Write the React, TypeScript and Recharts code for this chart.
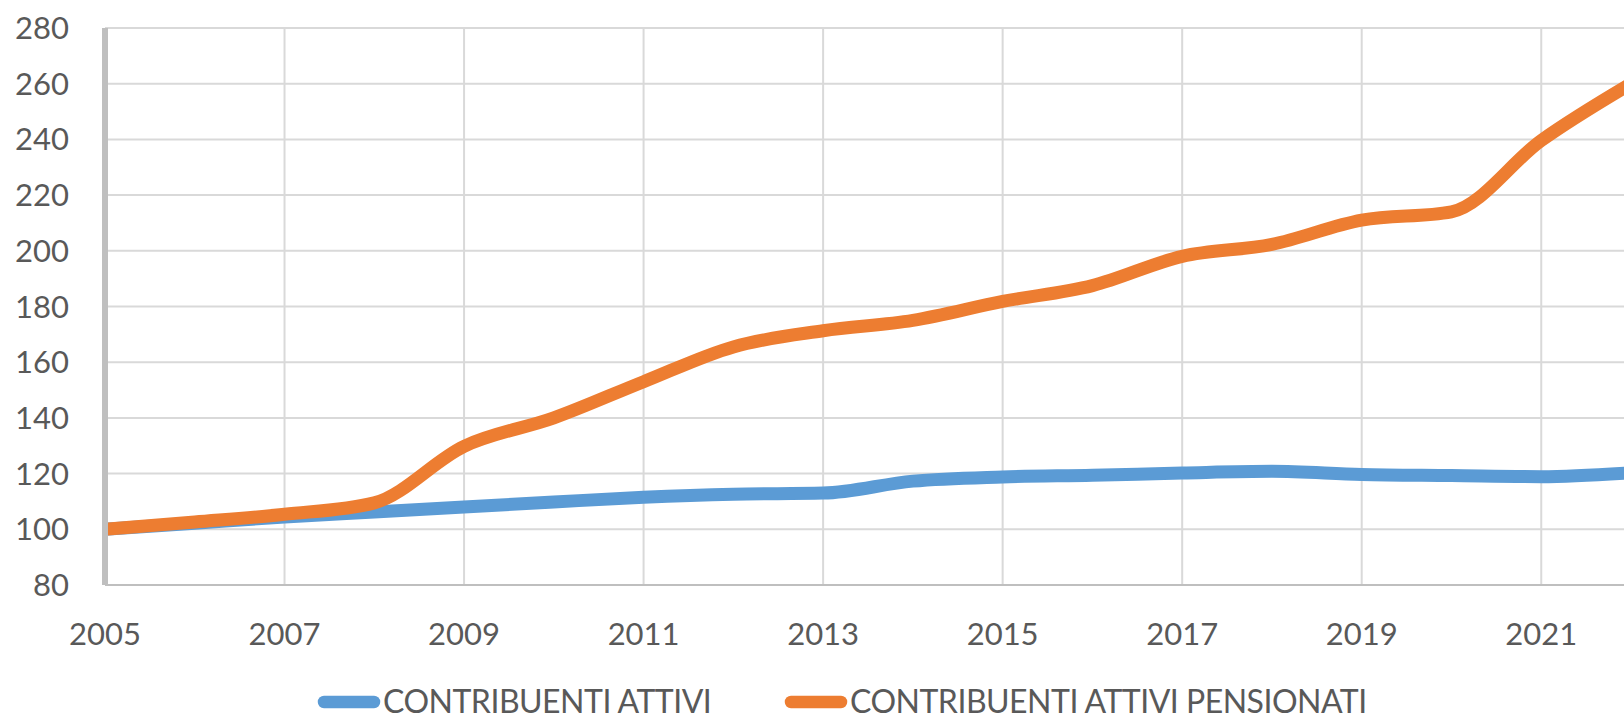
import { LineChart, Line, XAxis, YAxis, CartesianGrid } from 'recharts';

// Anni e valori indicizzati (2005 = 100)
const years = [2005, 2006, 2007, 2008, 2009, 2010, 2011, 2012, 2013, 2014, 2015, 2016, 2017, 2018, 2019, 2020, 2021, 2022];
const contribuentiAttivi = [100, 102.2, 104.4, 106.2, 108, 109.8, 111.5, 112.6, 113, 117.3, 118.8, 119.4, 120.2, 120.8, 119.7, 119.3, 118.9, 120.3];
const contribuentiPensionati = [100, 102.6, 105.4, 109.5, 129.8, 140, 153, 165.5, 171.3, 175, 181.8, 187.5, 198, 202.3, 211, 214, 239.6, 260];

const xTicks = [2005, 2007, 2009, 2011, 2013, 2015, 2017, 2019, 2021];
const yTicks = [80, 100, 120, 140, 160, 180, 200, 220, 240, 260, 280];

const seriesNames = ['CONTRIBUENTI ATTIVI', 'CONTRIBUENTI ATTIVI PENSIONATI'];
const seriesColors = ['#5B9BD5', '#ED7D31'];

const FONT = 'Lato, "Open Sans", sans-serif';
const TEXT_COLOR = '#595959';

function App() {
  const data = years.map((year, i) => ({
    year,
    attivi: contribuentiAttivi[i],
    pensionati: contribuentiPensionati[i],
  }));

  const tickStyle = { fontSize: 31, fill: TEXT_COLOR, fontFamily: FONT };

  // posizioni della legenda (inizio icona)
  const legendItems = [
    { name: seriesNames[0], color: seriesColors[0], x: 318 },
    { name: seriesNames[1], color: seriesColors[1], x: 785 },
  ];

  return (
    <div
      style={{
        position: 'absolute',
        left: 0,
        top: 0,
        width: 1624,
        height: 715,
        overflow: 'hidden',
        background: '#fff',
      }}
    >
      <LineChart
        width={1660}
        height={715}
        data={data}
        margin={{ top: 28, right: 29, bottom: 0, left: 0 }}
      >
        <CartesianGrid stroke="#D9D9D9" strokeWidth={2} />
        <XAxis
          dataKey="year"
          type="number"
          domain={[2005, 2022]}
          ticks={xTicks}
          height={130}
          tick={tickStyle}
          tickLine={false}
          tickSize={0}
          tickMargin={38}
          axisLine={{ stroke: '#BFBFBF', strokeWidth: 2 }}
          allowDecimals={false}
        />
        <YAxis
          type="number"
          domain={[80, 280]}
          ticks={yTicks}
          width={105}
          tick={tickStyle}
          tickLine={false}
          tickSize={0}
          tickMargin={36}
          axisLine={{ stroke: '#BFBFBF', strokeWidth: 6 }}
        />
        <Line
          type="monotone"
          dataKey="attivi"
          name={seriesNames[0]}
          stroke={seriesColors[0]}
          strokeWidth={13}
          dot={false}
          activeDot={false}
          isAnimationActive={false}
        />
        <Line
          type="monotone"
          dataKey="pensionati"
          name={seriesNames[1]}
          stroke={seriesColors[1]}
          strokeWidth={13}
          dot={false}
          activeDot={false}
          isAnimationActive={false}
        />
      </LineChart>

      {/* Legenda */}
      <svg
        width={1624}
        height={715}
        style={{ position: 'absolute', left: 0, top: 0, pointerEvents: 'none' }}
      >
        {legendItems.map((item) => (
          <g key={item.name}>
            <line
              x1={item.x + 6}
              x2={item.x + 56}
              y1={702}
              y2={702}
              stroke={item.color}
              strokeWidth={12.5}
              strokeLinecap="round"
            />
            <text
              x={item.x + 65}
              y={713}
              fontFamily={FONT}
              fontSize={32}
              fill={TEXT_COLOR}
              letterSpacing={-0.5}
            >
              {item.name}
            </text>
          </g>
        ))}
      </svg>
    </div>
  );
}

export default App;
